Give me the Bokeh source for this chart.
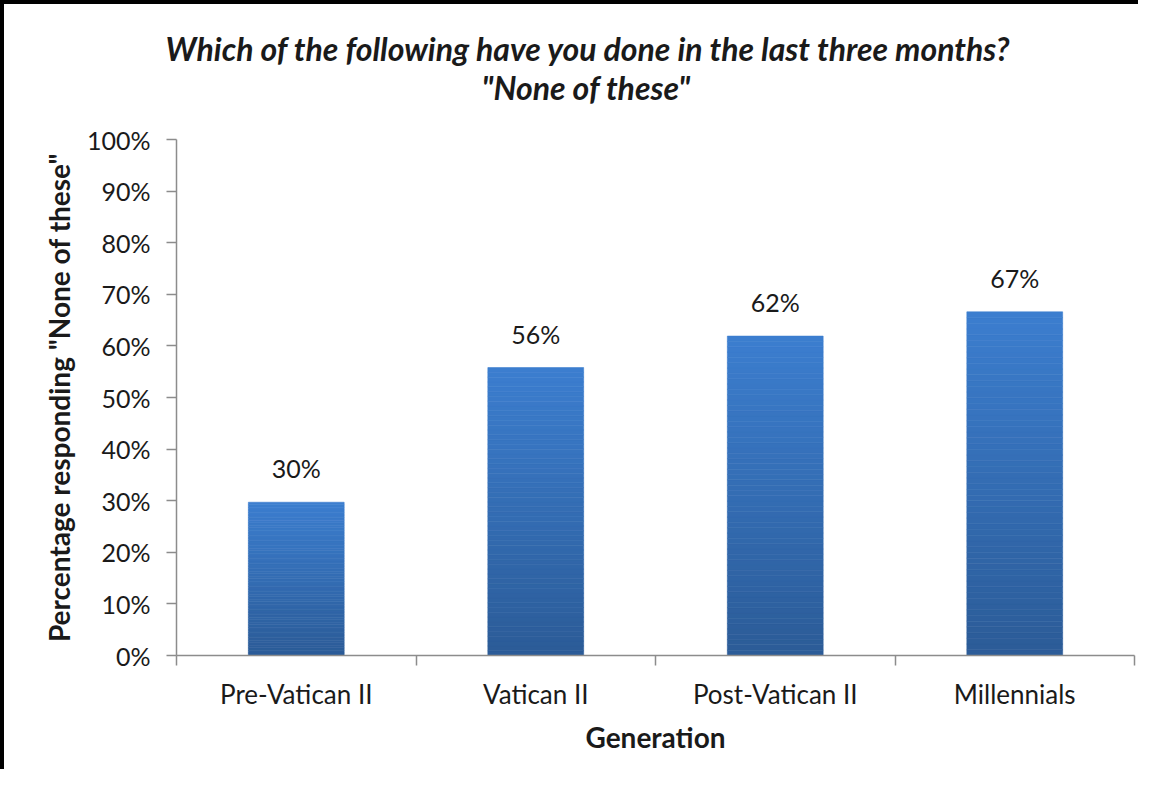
from bokeh.plotting import figure
from bokeh.models import ColumnDataSource, FixedTicker, Title, Range1d
from bokeh.core.properties import value
from bokeh.embed import file_html
from bokeh.resources import INLINE

categories = ["Pre-Vatican II", "Vatican II", "Post-Vatican II", "Millennials"]
values = [29.7, 55.8, 61.9, 66.6]
y_ticks = [0, 10, 20, 30, 40, 50, 60, 70, 80, 90, 100]
title_lines = ["Which of the following have you done in the last three months?", "\"None of these\""]
y_label = "Percentage responding \"None of these\""
x_label = "Generation"

FONT = "Lato"
top_rgb = (0x3C, 0x7E, 0xCF)
bot_rgb = (0x2C, 0x5C, 0x98)
N = 60

p = figure(width=1138, height=769, output_backend="svg", toolbar_location=None,
           x_range=Range1d(0, len(categories)), y_range=Range1d(0, 100),
           min_border_left=172, min_border_right=8, min_border_top=135, min_border_bottom=118)
p.title = None
p.outline_line_color = None
p.xgrid.visible = False
p.ygrid.visible = False
p.styles = {"border-left": "4px solid black", "border-top": "4px solid black"}

# gradient bars built as stacked stripes
xs, bots, tops, cols = [], [], [], []
for i, v in enumerate(values):
    for k in range(N):
        t = k / (N - 1)
        r = int(bot_rgb[0] + (top_rgb[0] - bot_rgb[0]) * t)
        g = int(bot_rgb[1] + (top_rgb[1] - bot_rgb[1]) * t)
        b = int(bot_rgb[2] + (top_rgb[2] - bot_rgb[2]) * t)
        xs.append(i + 0.5)
        bots.append(v * k / N)
        tops.append(v * (k + 1) / N)
        cols.append("#%02x%02x%02x" % (r, g, b))
src = ColumnDataSource(dict(x=xs, bottom=bots, top=tops, color=cols))
p.vbar(x="x", bottom="bottom", top="top", width=0.4, source=src,
       fill_color="color", line_color="color", line_width=0.6)

lab = ColumnDataSource(dict(x=[i + 0.5 for i in range(len(values))], y=values,
                            t=["%d%%" % int(round(v)) for v in values]))
p.text(x="x", y="y", text="t", source=lab, text_align="center", text_baseline="bottom",
       y_offset=-19, text_font=value(FONT), text_font_size="25px", text_color="#1a1a1a")

# x axis
xa = p.xaxis[0]
xa.ticker = FixedTicker(ticks=[i + 0.5 for i in range(len(categories))],
                        minor_ticks=list(range(len(categories) + 1)))
xa.major_label_overrides = {i + 0.5: c for i, c in enumerate(categories)}
xa.major_tick_out = 0
xa.major_tick_in = 0
xa.minor_tick_out = 10
xa.minor_tick_in = 0
xa.minor_tick_line_color = "#8c8c8c"
xa.minor_tick_line_width = 1.5
xa.axis_line_color = "#8c8c8c"
xa.axis_line_width = 1.5
xa.major_label_standoff = 12
xa.major_label_text_font = FONT
xa.major_label_text_font_size = "26px"
xa.major_label_text_color = "#1a1a1a"
xa.axis_label = x_label
xa.axis_label_text_font = FONT
xa.axis_label_text_font_size = "28px"
xa.axis_label_text_font_style = "bold"
xa.axis_label_text_color = "#1a1a1a"
xa.axis_label_standoff = 7

ya = p.yaxis[0]
ya.ticker = FixedTicker(ticks=y_ticks, minor_ticks=[])
ya.major_label_overrides = {t: "%d%%" % t for t in y_ticks}
ya.major_tick_out = 10
ya.major_tick_in = 0
ya.major_tick_line_color = "#8c8c8c"
ya.major_tick_line_width = 1.5
ya.axis_line_color = "#8c8c8c"
ya.axis_line_width = 1.5
ya.major_label_standoff = 16
ya.major_label_text_font = FONT
ya.major_label_text_font_size = "25px"
ya.major_label_text_color = "#1a1a1a"
ya.axis_label = y_label
ya.axis_label_text_font = FONT
ya.axis_label_text_font_size = "28px"
ya.axis_label_text_font_style = "bold"
ya.axis_label_text_color = "#1a1a1a"
ya.axis_label_standoff = 8

t2 = Title(text=title_lines[1], align="left", text_font=FONT, text_font_size="32px",
           text_font_style="bold italic", text_color="#1a1a1a", standoff=66, offset=305)
t1 = Title(text=title_lines[0], align="left", text_font=FONT, text_font_size="32px",
           text_font_style="bold italic", text_color="#1a1a1a", standoff=-70, offset=-11)
p.add_layout(t2, "above")
p.add_layout(t1, "above")

open("out.html", "w").write(file_html(p, INLINE))
